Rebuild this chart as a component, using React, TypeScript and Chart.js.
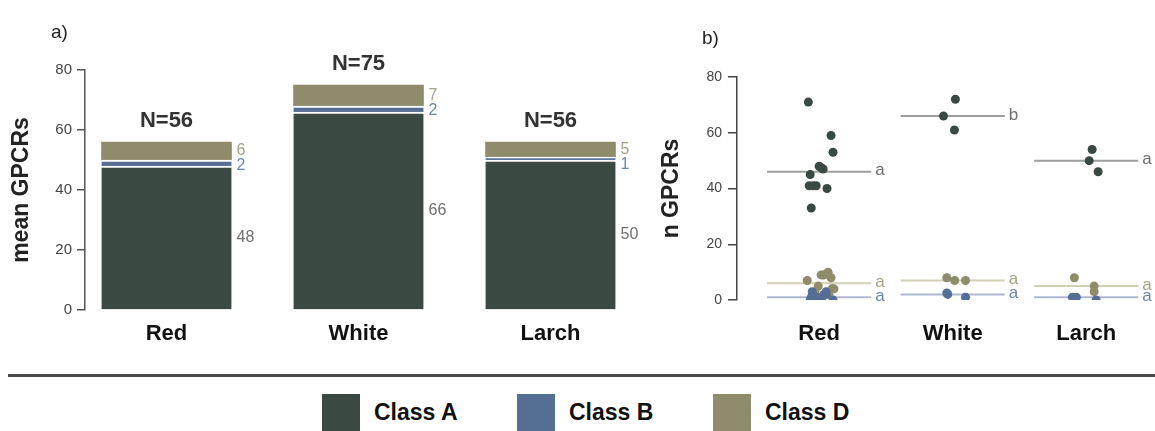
import React, { useEffect, useRef } from 'react';
import { Chart, registerables } from 'chart.js';

Chart.register(...registerables);

// ---------- data ----------
const categories = ['Red', 'White', 'Larch'];
const classA = [48, 66, 50];
const classB = [2, 2, 1];
const classD = [6, 7, 5];
const totals = ['N=56', 'N=75', 'N=56'];
const yTicks = [0, 20, 40, 60, 80];

// panel b: individual values and x-jitter (in category units)
const redA = [71, 59, 53, 48, 47.5, 47, 45, 41, 41, 41, 40, 33];
const redAJit = [-0.081, 0.089, 0.104, 0, 0.015, 0.03, -0.067, -0.074, -0.022, -0.044, 0.059, -0.059];
const redD = [7, 9, 9, 10, 8, 5, 4, 4, 3, 2, 2, 9];
const redDJit = [-0.089, 0.015, 0.037, 0.067, 0.089, -0.007, 0.096, 0.111, -0.03, 0.074, -0.044, 0.03];
const redB = [3, 1, 0, 0, 1, 2, 3, 0, 1, 0, 2, 1];
const redBJit = [-0.052, -0.059, -0.037, 0, 0.015, 0.052, 0.052, 0.104, 0.022, -0.067, 0.037, -0.022];
const whiteA = [72, 66, 61];
const whiteAJit = [0.02, -0.069, 0.013];
const whiteD = [8, 7, 7];
const whiteDJit = [-0.044, 0.015, 0.096];
const whiteB = [2.5, 2, 1];
const whiteBJit = [-0.044, -0.037, 0.096];
const larchA = [54, 50, 46];
const larchAJit = [0.044, 0.022, 0.089];
const larchD = [8, 5, 3];
const larchDJit = [-0.089, 0.059, 0.059];
const larchB = [1, 1, 0];
const larchBJit = [-0.104, -0.074, 0.074];

const meanA = [46, 66, 50];
const meanB = [1, 2, 1];
const meanD = [6, 7, 5];
const lettersA = ['a', 'b', 'a'];
const lettersB = ['a', 'a', 'a'];
const lettersD = ['a', 'a', 'a'];

const legendLabels = ['Class A', 'Class B', 'Class D'];

// ---------- style ----------
const FONT = "'Liberation Sans', Arial, Helvetica, sans-serif";
const COL_A = '#3a4a43';
const COL_B = '#546e94';
const COL_D = '#8e8c6b';
const LINE_A = '#9c9f9c';
const LINE_B = '#aeb7cf';
const LINE_D = '#d2d0b4';
const TXT_A = '#6f6f6f';
const TXT_B = '#7085a6';
const TXT_D = '#a3a188';
const HALF = 0.39;

function BarPanel() {
  const ref = useRef<HTMLCanvasElement>(null);
  useEffect(() => {
    const labelPlugin = {
      id: 'barLabels',
      afterDatasetsDraw(chart: any) {
        const { ctx } = chart;
        const x = chart.scales.x;
        const y = chart.scales.y;
        const metaD = chart.getDatasetMeta(2);
        ctx.save();
        categories.forEach((_, i) => {
          const bar = metaD.data[i];
          const right = bar.x + bar.width / 2 + 5;
          const total = classA[i] + classB[i] + classD[i];
          const top = y.getPixelForValue(total);
          ctx.fillStyle = '#333';
          ctx.font = `bold 22px ${FONT}`;
          ctx.textAlign = 'center';
          ctx.textBaseline = 'alphabetic';
          ctx.fillText(totals[i], x.getPixelForValue(i), top - 15);
          const dMid = y.getPixelForValue(classA[i] + classB[i] + classD[i] / 2);
          const bMid = y.getPixelForValue(classA[i] + classB[i] / 2);
          const aMid = y.getPixelForValue(classA[i] / 2);
          ctx.font = `16px ${FONT}`;
          ctx.textAlign = 'left';
          ctx.textBaseline = 'middle';
          ctx.fillStyle = TXT_D;
          ctx.fillText(String(classD[i]), right, dMid);
          ctx.fillStyle = TXT_B;
          ctx.fillText(String(classB[i]), right, Math.max(bMid, dMid + 15));
          ctx.fillStyle = TXT_A;
          ctx.fillText(String(classA[i]), right, aMid);
        });
        ctx.font = `19px ${FONT}`;
        ctx.fillStyle = '#222';
        ctx.textAlign = 'left';
        ctx.textBaseline = 'alphabetic';
        ctx.fillText('a)', 51, 38);
        ctx.restore();
      },
    };
    const mk = (vals: number[], color: string, border: number) => ({
      data: vals.map((v, i) => ({ x: i, y: v })),
      backgroundColor: color,
      borderColor: '#ffffff',
      borderWidth: { top: border, left: 0, right: 0, bottom: 0 },
      borderSkipped: 'start',
      barThickness: 130,
    });
    const chart = new Chart(ref.current!, {
      type: 'bar',
      data: {
        datasets: [mk(classA, COL_A, 2), mk(classB, COL_B, 2), mk(classD, COL_D, 0)] as any,
      },
      options: {
        animation: false,
        responsive: false,
        events: [],
        layout: { padding: { top: 70, left: 0, right: 14, bottom: 0 } },
        plugins: { legend: { display: false }, tooltip: { enabled: false } },
        scales: {
          x: {
            type: 'linear',
            stacked: true,
            offset: false,
            min: -0.4245,
            max: 2.4974,
            afterBuildTicks: (s: any) => {
              s.ticks = categories.map((_, i) => ({ value: i }));
            },
            afterFit: (s: any) => {
              s.height = 55;
            },
            ticks: {
              callback: (v: any) => categories[v],
              font: { family: FONT, size: 22, weight: 'bold' },
              color: '#111',
              padding: 11,
              autoSkip: false,
              maxRotation: 0,
            },
            grid: { display: false, drawTicks: false },
            border: { display: false },
          },
          y: {
            stacked: true,
            min: 0,
            max: 80,
            afterBuildTicks: (s: any) => {
              s.ticks = yTicks.map((v) => ({ value: v }));
            },
            afterFit: (s: any) => {
              s.width = 85;
            },
            ticks: { font: { family: FONT, size: 15 }, color: '#444', padding: 5 },
            grid: { drawOnChartArea: false, drawTicks: true, tickLength: 8, color: '#555', lineWidth: 1.5 },
            border: { color: '#555', width: 1.5 },
            title: {
              display: true,
              text: 'mean GPCRs',
              font: { family: FONT, size: 23, weight: 'bold' },
              color: '#222',
              padding: { top: 8, bottom: 0 },
            },
          },
        },
      } as any,
      plugins: [labelPlugin],
    });
    return () => chart.destroy();
  }, []);
  return <canvas ref={ref} width={660} height={365} style={{ position: 'absolute', left: 0, top: 0 }} />;
}

function DotPanel() {
  const ref = useRef<HTMLCanvasElement>(null);
  useEffect(() => {
    const groupsA: [number[], number[]][] = [[redA, redAJit], [whiteA, whiteAJit], [larchA, larchAJit]];
    const groupsB: [number[], number[]][] = [[redB, redBJit], [whiteB, whiteBJit], [larchB, larchBJit]];
    const groupsD: [number[], number[]][] = [[redD, redDJit], [whiteD, whiteDJit], [larchD, larchDJit]];
    const pts = (groups: [number[], number[]][]) =>
      groups.flatMap(([vals, jit], i) => vals.map((v, k) => ({ x: i + jit[k], y: v })));
    const ptSet = (groups: [number[], number[]][], color: string) => ({
      data: pts(groups),
      backgroundColor: color,
      borderWidth: 0,
      pointRadius: 4.5,
      showLine: false,
    });
    const lineSets = (means: number[], color: string) =>
      means.map((m, i) => ({
        type: 'line',
        data: [
          { x: i - HALF, y: m },
          { x: i + HALF, y: m },
        ],
        borderColor: color,
        borderWidth: 2,
        pointRadius: 0,
        showLine: true,
        fill: false,
      }));
    const letterPlugin = {
      id: 'letters',
      afterDatasetsDraw(chart: any) {
        const { ctx } = chart;
        const x = chart.scales.x;
        const y = chart.scales.y;
        ctx.save();
        ctx.font = `17px ${FONT}`;
        ctx.textAlign = 'left';
        ctx.textBaseline = 'middle';
        const draw = (means: number[], letters: string[], color: string) => {
          means.forEach((m, i) => {
            ctx.fillStyle = color;
            ctx.fillText(letters[i], x.getPixelForValue(i + HALF) + 4, y.getPixelForValue(m) - 1);
          });
        };
        draw(meanA, lettersA, TXT_A);
        draw(meanD, lettersD, TXT_D);
        draw(meanB, lettersB, TXT_B);
        ctx.font = `19px ${FONT}`;
        ctx.fillStyle = '#222';
        ctx.textBaseline = 'alphabetic';
        ctx.fillText('b)', 62, 44);
        ctx.restore();
      },
    };
    const chart = new Chart(ref.current!, {
      type: 'scatter',
      data: {
        datasets: [
          ptSet(groupsB, COL_B),
          ptSet(groupsD, COL_D),
          ptSet(groupsA, COL_A),
          ...lineSets(meanA, LINE_A),
          ...lineSets(meanD, LINE_D),
          ...lineSets(meanB, LINE_B),
        ] as any,
      },
      options: {
        animation: false,
        responsive: false,
        events: [],
        layout: { padding: { top: 77, left: 0, right: 0, bottom: 0 } },
        plugins: { legend: { display: false }, tooltip: { enabled: false } },
        scales: {
          x: {
            type: 'linear',
            offset: false,
            min: -0.615,
            max: 2.481,
            afterBuildTicks: (s: any) => {
              s.ticks = categories.map((_, i) => ({ value: i }));
            },
            afterFit: (s: any) => {
              s.height = 65;
            },
            ticks: {
              callback: (v: any) => categories[v],
              font: { family: FONT, size: 22, weight: 'bold' },
              color: '#111',
              padding: 21,
              autoSkip: false,
              maxRotation: 0,
            },
            grid: { display: false, drawTicks: false },
            border: { display: false },
          },
          y: {
            min: 0,
            max: 80,
            afterBuildTicks: (s: any) => {
              s.ticks = yTicks.map((v) => ({ value: v }));
            },
            afterFit: (s: any) => {
              s.width = 97;
            },
            ticks: { font: { family: FONT, size: 14 }, color: '#444', padding: 6 },
            grid: { drawOnChartArea: false, drawTicks: true, tickLength: 9, color: '#444', lineWidth: 1.5 },
            border: { color: '#444', width: 1.5 },
            title: {
              display: true,
              text: 'n GPCRs',
              font: { family: FONT, size: 23, weight: 'bold' },
              color: '#222',
              padding: { top: 18, bottom: 0 },
            },
          },
        },
      } as any,
      plugins: [letterPlugin],
    });
    return () => chart.destroy();
  }, []);
  return <canvas ref={ref} width={515} height={365} style={{ position: 'absolute', left: 640, top: 0 }} />;
}

function Legend() {
  const colors = [COL_A, COL_B, COL_D];
  const lefts = [322, 517, 713];
  return (
    <>
      <div style={{ position: 'absolute', left: 8, right: 0, top: 374, height: 3, background: '#4a4a4a' }} />
      {legendLabels.map((l, i) => (
        <React.Fragment key={l}>
          <div
            style={{ position: 'absolute', left: lefts[i], top: 394, width: 38, height: 40, background: colors[i] }}
          />
          <div
            style={{
              position: 'absolute',
              left: lefts[i] + 52,
              top: 401,
              font: `bold 23px ${FONT}`,
              lineHeight: 1,
              color: '#111',
              whiteSpace: 'nowrap',
            }}
          >
            {l}
          </div>
        </React.Fragment>
      ))}
    </>
  );
}

export default function App() {
  return (
    <div
      style={{
        position: 'fixed',
        left: 0,
        top: 0,
        width: 1155,
        height: 431,
        overflow: 'hidden',
        background: '#fff',
      }}
    >
      <BarPanel />
      <DotPanel />
      <Legend />
    </div>
  );
}
